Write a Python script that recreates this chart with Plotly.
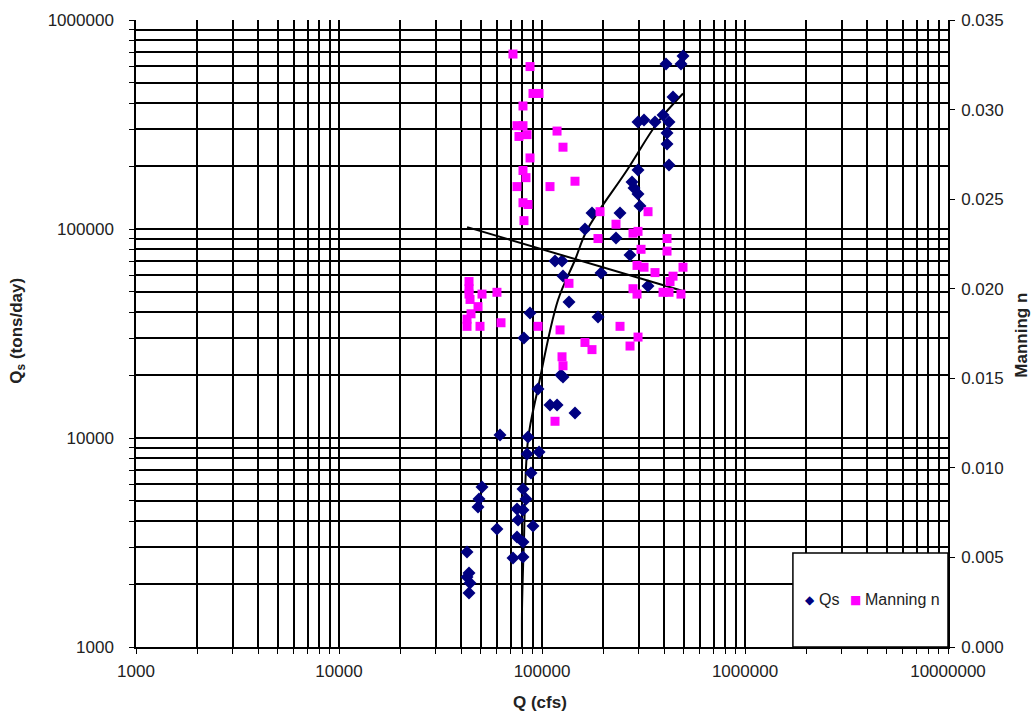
import plotly.graph_objects as go

# ---- Data ----
qs_q = [495000, 408300, 483800, 442000, 297200, 318100, 360300, 394700, 422400, 412900,
        412900, 422400, 297200, 277600, 284000, 297200, 304000, 176300, 242300, 162800,
        231500, 271400, 115900, 125500, 195300, 126900, 332900, 135800, 87300, 188700,
        81500, 124000, 126900, 95600, 109500, 118600, 145400, 62100, 85300, 84400,
        96700, 88300, 50640, 80600, 48950, 83400, 48400, 75300, 80600, 76200,
        60000, 90300, 75300, 80600, 42720, 71950, 80600, 43700, 42720, 44200, 43700]
qs_val = [672600, 616000, 616000, 428100, 325100, 332300, 325100, 351200, 325100, 288000,
          255100, 202400, 191600, 167900, 157100, 147100, 128800, 119300, 119300, 100000,
          90550, 75100, 70300, 70300, 61600, 59600, 53400, 44740, 39640, 37920,
          30100, 20010, 19580, 17150, 14380, 14380, 13170, 10330, 10110, 8380,
          8570, 6800, 5830, 5700, 5108, 5108, 4675, 4575, 4525, 4052,
          3670, 3792, 3360, 3180, 2848, 2666, 2695, 2260, 2162, 2024, 1813]

mn_q = [71950, 87300, 90300, 96700, 80600, 75300, 80600, 77000, 84400, 118600,
        126900, 87300, 80600, 83400, 145400, 75300, 109500, 80600, 85300, 81500,
        193100, 332900, 231500, 280800, 297200, 188700, 412900, 307500, 412900, 293800,
        318100, 360300, 495000, 442000, 427200, 280800, 293800, 394700, 422400, 483800,
        135800, 43700, 43700, 43700, 50640, 60000, 48400, 44200, 44700, 42720,
        42720, 49500, 62810, 95600, 122700, 242300, 297200, 271400, 162800, 176300,
        125500, 126900, 115900]
mn_val = [0.0331, 0.0324, 0.0309, 0.0309, 0.0302, 0.0291, 0.0291, 0.0285, 0.0286, 0.0288,
          0.0279, 0.0273, 0.0266, 0.0262, 0.0260, 0.0257, 0.0257, 0.0248, 0.0247, 0.0238,
          0.0243, 0.0243, 0.0236, 0.0231, 0.0232, 0.0228, 0.0228, 0.0222, 0.0221, 0.0213,
          0.0212, 0.0209, 0.0212, 0.0207, 0.0204, 0.0200, 0.0197, 0.0198, 0.0198, 0.0197,
          0.0203, 0.0204, 0.0200, 0.0197, 0.0197, 0.0198, 0.0190, 0.0194, 0.0186, 0.0183,
          0.0179, 0.0179, 0.0181, 0.0179, 0.0177, 0.0179, 0.0173, 0.0168, 0.0170, 0.0166,
          0.0162, 0.0157, 0.0126]

# trend lines
qs_trend_q = [79700, 79700, 81500, 85300, 95600, 119900, 145400, 166600, 262600, 372700, 495000]
qs_trend_v = [1000, 1503, 3251, 9770, 17340, 45740, 71070, 98900, 191600, 325100, 445000]
mn_trend_q = [42800, 495000]
mn_trend_v = [0.02344, 0.01987]

series_names = ["Qs", "Manning n"]
series_colors = ["#000080", "#FF00FF"]

x_major = [1000, 10000, 100000, 1000000, 10000000]
y_major = [1000, 10000, 100000, 1000000]
y2_ticks = [0.000, 0.005, 0.010, 0.015, 0.020, 0.025, 0.030, 0.035]

FONT = "Arial, Liberation Sans, sans-serif"

x_tickvals = [m * 10 ** e for e in range(3, 7) for m in range(1, 10)] + [10 ** 7]
x_ticktext = [str(int(v)) if int(v) in x_major else "" for v in x_tickvals]
y_tickvals = [m * 10 ** e for e in range(3, 6) for m in range(1, 10)] + [10 ** 6]
y_ticktext = [str(int(v)) if int(v) in y_major else "" for v in y_tickvals]

fig = go.Figure()
fig.add_trace(go.Scatter(x=qs_trend_q, y=qs_trend_v, mode="lines", line=dict(color="black", width=2, shape="spline"),
                         showlegend=False, hoverinfo="skip"))
fig.add_trace(go.Scatter(x=mn_trend_q, y=mn_trend_v, mode="lines", line=dict(color="black", width=2),
                         showlegend=False, hoverinfo="skip", yaxis="y2"))
fig.add_trace(go.Scatter(x=qs_q, y=qs_val, mode="markers", name=series_names[0], showlegend=False,
                         marker=dict(symbol="diamond", size=10, color=series_colors[0])))
fig.add_trace(go.Scatter(x=mn_q, y=mn_val, mode="markers", name=series_names[1], yaxis="y2", showlegend=False,
                         marker=dict(symbol="square", size=9, color=series_colors[1])))

# legend drawn as boxed text (compact Excel-style legend)
legend_y = 0.075
legend_ann = [
    dict(text="◆", x=0.830, y=legend_y, xanchor="center", font=dict(family="DejaVu Sans", size=12, color=series_colors[0])),
    dict(text=series_names[0], x=0.8387, y=legend_y, xanchor="left", font=dict(size=16, color="#222")),
    dict(text="■", x=0.8855, y=legend_y, xanchor="center", font=dict(family="DejaVu Sans", size=12, color=series_colors[1])),
    dict(text=series_names[1], x=0.8953, y=legend_y, xanchor="left", font=dict(size=16, color="#222")),
]
for a in legend_ann:
    a.update(xref="paper", yref="paper", showarrow=False, yanchor="middle")

fig.update_layout(
    width=1036, height=713,
    margin=dict(l=136, r=88, t=20, b=66),
    paper_bgcolor="white", plot_bgcolor="white",
    font=dict(family=FONT, size=17, color="#222"),
    showlegend=False,
    xaxis=dict(type="log", range=[3, 7], tickvals=x_tickvals, ticktext=x_ticktext,
               showgrid=True, gridcolor="black", gridwidth=1.5, showline=True, linecolor="black",
               linewidth=1.5, ticks="outside", ticklen=5, tickcolor="black", zeroline=False,
               ticklabelstandoff=3),
    yaxis=dict(type="log", range=[3, 6], tickvals=y_tickvals, ticktext=y_ticktext,
               showgrid=True, gridcolor="black", gridwidth=1.5, showline=True, linecolor="black",
               linewidth=1.5, ticks="outside", ticklen=5, tickcolor="black", zeroline=False,
               ticklabelstandoff=12),
    yaxis2=dict(overlaying="y", side="right", range=[0, 0.035], tickvals=y2_ticks, tickformat=".3f",
                showgrid=False, showline=True, linecolor="black", linewidth=1.5, ticks="outside",
                ticklen=5, tickcolor="black", zeroline=False, ticklabelstandoff=3),
    shapes=[dict(type="rect", xref="paper", yref="paper", x0=0.809, x1=1.0, y0=0.0, y1=0.150,
                 fillcolor="white", line=dict(color="black", width=1.5), layer="above")],
    annotations=[
        dict(text="<b>Q (cfs)</b>", xref="paper", yref="paper", x=0.4975, y=-0.089,
             showarrow=False, xanchor="center", yanchor="middle", font=dict(size=17)),
        dict(text="<b>Q<sub>s</sub> (tons/day)</b>", xref="paper", yref="paper", x=-0.145, y=0.505,
             showarrow=False, textangle=-90, xanchor="center", yanchor="middle", font=dict(size=17)),
        dict(text="<b>Manning n</b>", xref="paper", yref="paper", x=1.091, y=0.498,
             showarrow=False, textangle=-90, xanchor="center", yanchor="middle", font=dict(size=17)),
    ] + legend_ann,
)

fig.write_html("out.html", config={"displayModeBar": False},
               post_script="document.body.style.margin='0px';document.body.style.overflow='hidden';")
